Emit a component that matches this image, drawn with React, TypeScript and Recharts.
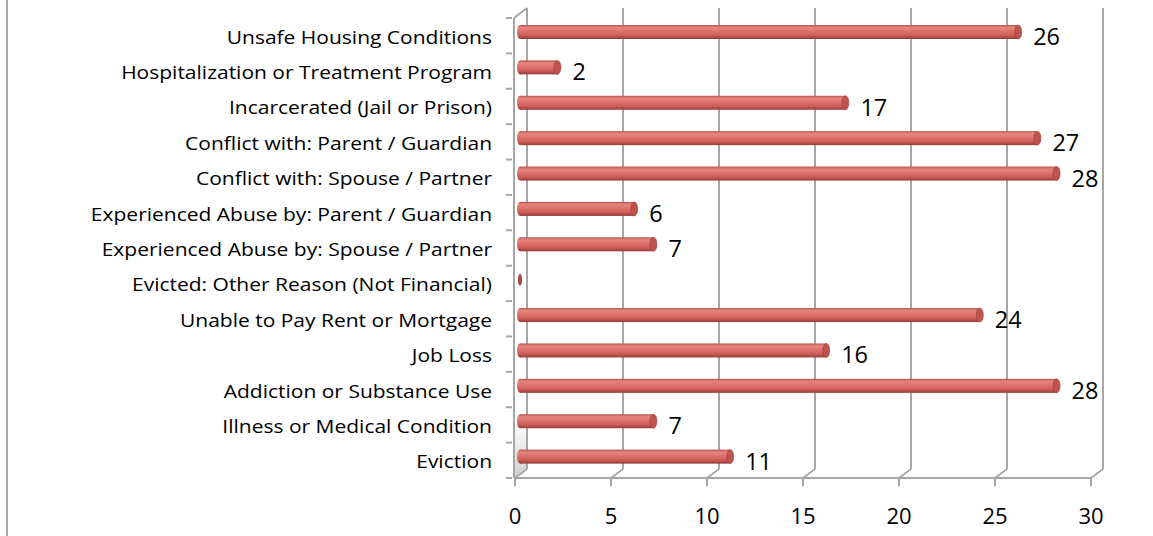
import React from 'react';
import { BarChart, Bar, XAxis, YAxis, CartesianGrid, LabelList } from 'recharts';

const categories = [
  'Unsafe Housing Conditions',
  'Hospitalization or Treatment Program',
  'Incarcerated (Jail or Prison)',
  'Conflict with: Parent / Guardian',
  'Conflict with: Spouse / Partner',
  'Experienced Abuse by: Parent / Guardian',
  'Experienced Abuse by: Spouse / Partner',
  'Evicted: Other Reason (Not Financial)',
  'Unable to Pay Rent or Mortgage',
  'Job Loss',
  'Addiction or Substance Use',
  'Illness or Medical Condition',
  'Eviction',
];
const counts = [26, 2, 17, 27, 28, 6, 7, 0, 24, 16, 28, 7, 11];
const xTicks = [0, 5, 10, 15, 20, 25, 30];

const data = categories.map((name, i) => ({ name, value: counts[i] }));

const W = 1153;
const H = 536;
const MARGIN = { top: 14, right: 58, bottom: 0, left: 0 };
const Y_AXIS_W = 519;
const X_AXIS_H = 62;
const PLOT_W = W - Y_AXIS_W - MARGIN.right;
const STEP = PLOT_W / (xTicks.length - 1);
// 3D offsets: back wall sits up/right of the front edge
const BACK_DX = 8;
const BACK_DY = -5;
const FRONT_DX = -4;
const FRONT_DY = 4;
const GRID = '#a6a6a6';
const FONT = '"Open Sans", sans-serif';

const GridLine = (props: any) => {
  const { x1, y1, y2, index } = props;
  const bx = x1 + BACK_DX;
  const fx = x1 + FRONT_DX;
  const floorBack = y2 + BACK_DY;
  const floorFront = y2 + FRONT_DY;
  const last = index === xTicks.length - 1;
  return (
    <g>
      {index === 0 && (
        <g>
          <polygon
            points={`${x1 - 5},${y1 + 4} ${bx},${y1 - 6} ${bx},${floorBack} ${x1 - 5},${floorFront}`}
            fill="url(#sideWall)"
          />
          <line x1={x1 - 5} y1={y1 + 4} x2={x1 - 5} y2={floorFront} stroke={GRID} strokeWidth={2} />
          <line x1={x1 - 5} y1={y1 + 4} x2={bx} y2={y1 - 6} stroke={GRID} strokeWidth={2} />
        </g>
      )}
      <line x1={bx} y1={y1 - 6} x2={bx} y2={floorBack} stroke={GRID} strokeWidth={2} />
      <line x1={bx} y1={floorBack} x2={fx} y2={floorFront} stroke={GRID} strokeWidth={2} />
      {!last && <line x1={fx - 1} y1={floorFront} x2={fx + STEP + 1} y2={floorFront} stroke={GRID} strokeWidth={2} />}
      <line x1={fx} y1={floorFront} x2={fx} y2={floorFront + 8} stroke={GRID} strokeWidth={2} />
    </g>
  );
};

const XTick = (props: any) => {
  const { x, payload } = props;
  return (
    <text x={x + FRONT_DX} y={H - 12} textAnchor="middle" fontFamily={FONT} fontSize={22} fill="#000">
      {payload.value}
    </text>
  );
};

const YTick = (props: any) => {
  const { x, y, payload, index } = props;
  const band = (H - MARGIN.top - X_AXIS_H) / categories.length;
  const ax = x + 1;
  return (
    <g>
      {index === 0 && (
        <line x1={ax - 6} y1={y - band / 2 + FRONT_DY} x2={ax} y2={y - band / 2 + FRONT_DY} stroke={GRID} strokeWidth={2} />
      )}
      <line x1={ax - 6} y1={y + band / 2 + FRONT_DY} x2={ax} y2={y + band / 2 + FRONT_DY} stroke={GRID} strokeWidth={2} />
      <text
        transform={`translate(${x - 19},${y + 12}) scale(1.105,1)`}
        textAnchor="end"
        fontFamily={FONT}
        fontSize={19}
        fill="#000"
      >
        {payload.value}
      </text>
    </g>
  );
};

const CylinderBar = (props: any) => {
  const { x, y, width, height } = props;
  const ry = height / 2;
  const cy = y + ry;
  if (!width || width < 1) {
    return <ellipse cx={x + 1} cy={cy} rx={2} ry={ry - 1} fill="#a9443f" />;
  }
  return (
    <g>
      <ellipse cx={x + 1} cy={cy} rx={3} ry={ry} fill="url(#barGrad)" />
      <rect x={x + 1} y={y} width={width - 1} height={height} fill="url(#barGrad)" />
      <ellipse cx={x + width} cy={cy} rx={3.5} ry={ry} fill="#c0534d" stroke="#9c3d38" strokeWidth={0.6} />
    </g>
  );
};

const ValueLabel = (props: any) => {
  const { x, y, width, height, value } = props;
  if (!value) return null;
  return (
    <text x={x + width + 15} y={y + height / 2 + 13} fontFamily={FONT} fontSize={23.5} fill="#000">
      {value}
    </text>
  );
};

export default function App() {
  return (
    <div style={{ position: 'absolute', left: 0, top: 0, width: W, height: H, background: '#fff' }}>
      <div style={{ position: 'absolute', left: 6, top: 0, width: 2, height: H, background: '#a8a8a8' }} />
      <BarChart width={W} height={H} data={data} layout="vertical" margin={MARGIN} barSize={14}>
        <defs>
          <linearGradient id="barGrad" x1="0" y1="0" x2="0" y2="1">
            <stop offset="0%" stopColor="#b8544f" />
            <stop offset="18%" stopColor="#e5857e" />
            <stop offset="40%" stopColor="#e07671" />
            <stop offset="75%" stopColor="#cc5c56" />
            <stop offset="100%" stopColor="#963c38" />
          </linearGradient>
          <linearGradient id="sideWall" x1="0" y1="0" x2="0" y2="1">
            <stop offset="0%" stopColor="#ffffff" />
            <stop offset="88%" stopColor="#ffffff" />
            <stop offset="100%" stopColor="#cfcfcf" />
          </linearGradient>
        </defs>
        <CartesianGrid horizontal={false} vertical={GridLine} />
        <XAxis
          type="number"
          domain={[0, 30]}
          ticks={xTicks}
          axisLine={false}
          tickLine={false}
          height={X_AXIS_H}
          tick={XTick}
          interval={0}
        />
        <YAxis
          type="category"
          dataKey="name"
          width={Y_AXIS_W}
          axisLine={false}
          tickLine={false}
          tick={YTick}
          interval={0}
        />
        <Bar dataKey="value" shape={CylinderBar} isAnimationActive={false}>
          <LabelList dataKey="value" content={ValueLabel} />
        </Bar>
      </BarChart>
    </div>
  );
}
